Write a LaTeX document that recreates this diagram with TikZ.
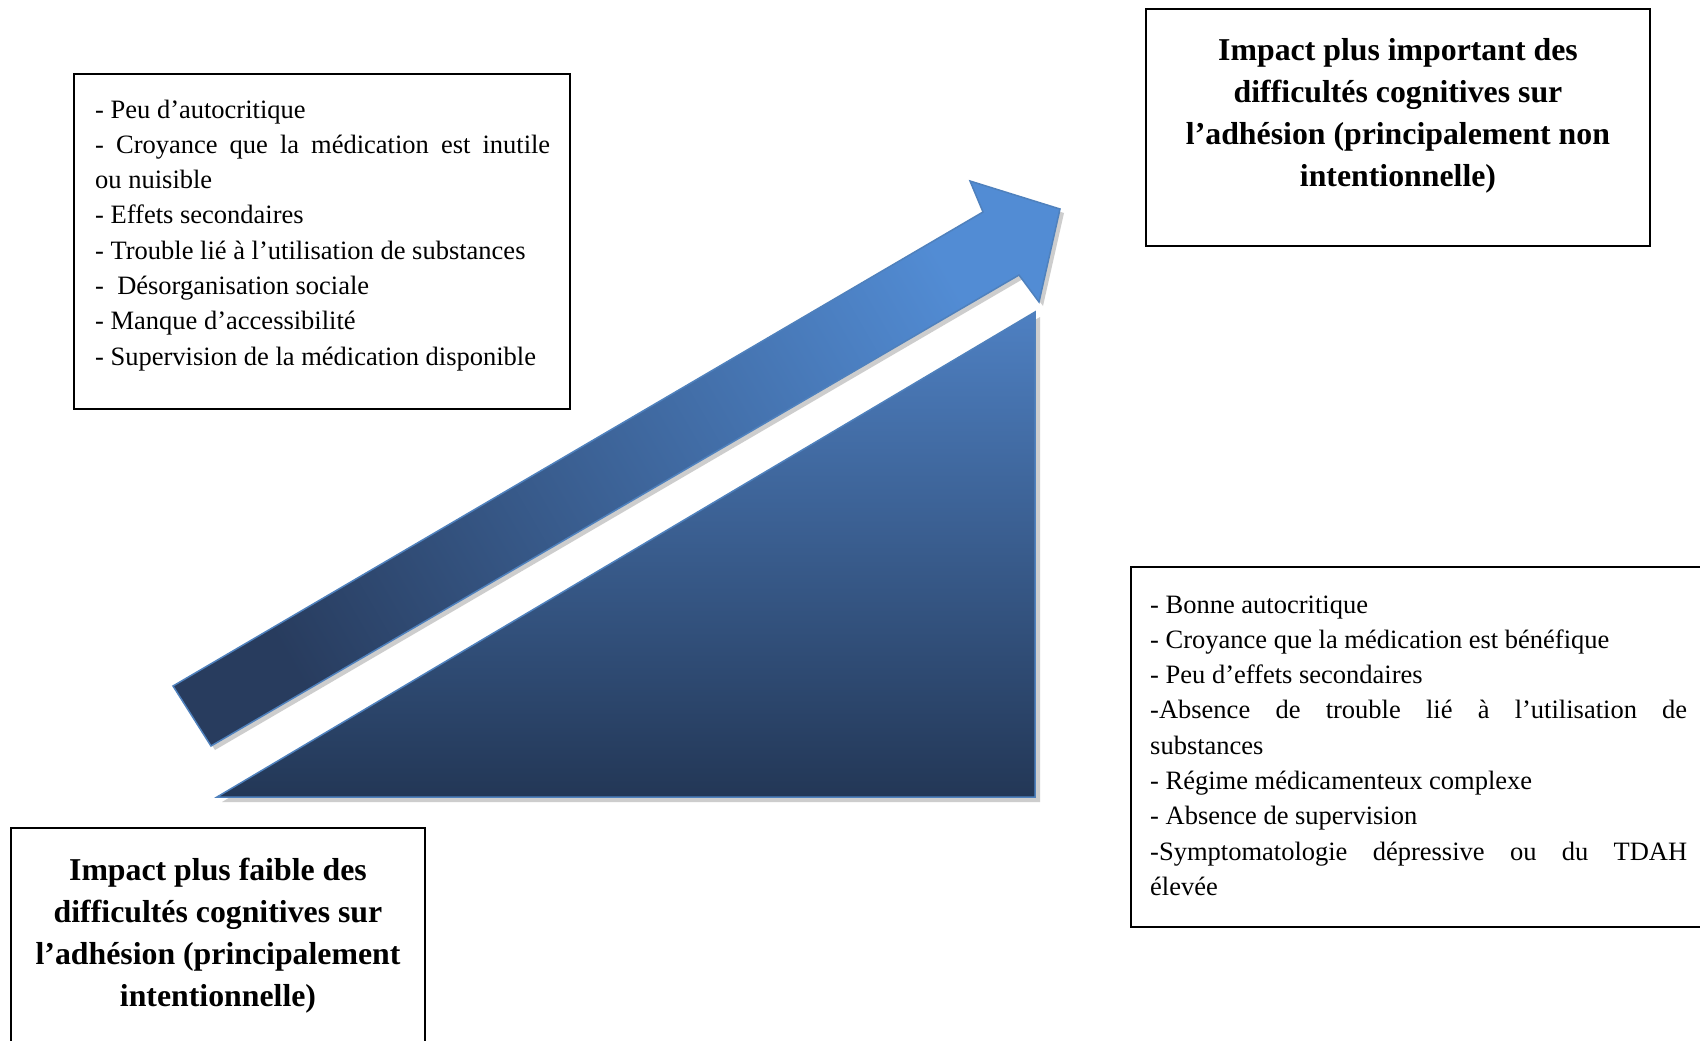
\documentclass[tikz,border=0pt]{standalone}
\usepackage{fontspec}
\setmainfont{Liberation Serif}
\definecolor{arrowdark}{RGB}{40,60,94}
\definecolor{arrowlight}{RGB}{82,140,212}
\definecolor{tritop}{RGB}{78,128,194}
\definecolor{tribot}{RGB}{35,55,86}
\definecolor{shapeedge}{RGB}{79,129,189}
\definecolor{shadowgrey}{RGB}{205,205,205}
\hbadness=10000
\begin{document}
\begin{tikzpicture}[x=1pt,y=-1pt,
  framebox/.style={draw=black,line width=2pt},
  listtext/.style={anchor=base west,inner sep=0pt,
    font=\fontsize{26.5}{35.3}\selectfont},
  titletext/.style={anchor=base,inner sep=0pt,
    font=\fontsize{31.8}{42.3}\selectfont\bfseries},
  shapeline/.style={draw=shapeedge,line width=1.5pt,line join=miter},
  arrowshape/.style={insert path={(173,686) -- (983,212) -- (970,181) -- (1060,209)
    -- (1039,302) -- (1019,275) -- (211,746) -- cycle}},
  triangleshape/.style={insert path={(217,797) -- (1035,312) -- (1035,797) -- cycle}}
]
\clip (0,0) rectangle (1700,1041);
\fill[white] (0,0) rectangle (1700,1041);

% drop shadows
\begin{scope}[shift={(4,4)}]
  \fill[shadowgrey,arrowshape];
\end{scope}
\begin{scope}[shift={(5,5)}]
  \fill[shadowgrey,triangleshape];
\end{scope}

% rising arrow
\shade[top color=arrowdark,bottom color=arrowlight,shading angle=120,arrowshape];
\draw[shapeline,arrowshape];

% wedge
\shade[top color=tritop,bottom color=tribot,triangleshape];
\draw[shapeline,triangleshape];

% factor lists
\draw[framebox] (74,74) rectangle (570,409);
\node[listtext] (left list) at (95,118) {\parbox[t]{455pt}{%
- Peu d’autocritique\par
- Croyance que la médication est inutile\linebreak ou nuisible\par
- Effets secondaires\par
- Trouble lié à l’utilisation de substances\par
-\ \ Désorganisation sociale\par
- Manque d’accessibilité\par
- Supervision de la médication disponible}};

\draw[framebox] (1131,567) rectangle (1712,927);
\node[listtext] (right list) at (1150,613) {\parbox[t]{537pt}{%
- Bonne autocritique\par
- Croyance que la médication est bénéfique\par
- Peu d’effets secondaires\par
-Absence de trouble lié à l’utilisation de\linebreak substances\par
- Régime médicamenteux complexe\par
- Absence de supervision\par
-Symptomatologie dépressive ou du TDAH\linebreak élevée}};

% impact labels
\draw[framebox] (1146,9) rectangle (1650,246);
\node[titletext] (high impact) at (1398,60) {\parbox[t]{480pt}{\centering
Impact plus important des\\
difficultés cognitives sur\\
l’adhésion (principalement non\\
intentionnelle)}};

\draw[framebox] (11,828) rectangle (425,1050);
\node[titletext] (low impact) at (218,880) {\parbox[t]{400pt}{\centering
Impact plus faible des\\
difficultés cognitives sur\\
l’adhésion (principalement\\
intentionnelle)}};
\end{tikzpicture}
\end{document}
